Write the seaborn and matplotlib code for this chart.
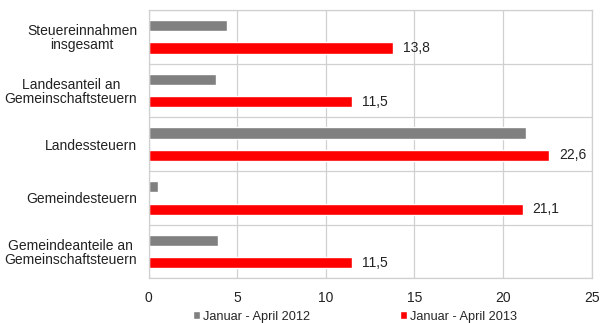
import matplotlib
matplotlib.use("Agg")
import matplotlib.pyplot as plt
import seaborn as sns
import pandas as pd
from matplotlib.patches import Patch

categories = ["Steuereinnahmen\ninsgesamt", "Landesanteil an\nGemeinschaftsteuern",
              "Landessteuern", "Gemeindesteuern", "Gemeindeanteile an\nGemeinschaftsteuern"]
series_names = ["Januar - April 2012", "Januar - April 2013"]
values_2012 = [4.4, 3.8, 21.3, 0.5, 3.9]
values_2013 = [13.8, 11.5, 22.6, 21.1, 11.5]
x_ticks = [0, 5, 10, 15, 20, 25]
colors = ["#808080", "#FF0000"]

sns.set_theme(style="white")
plt.rcParams['font.family'] = ['Liberation Sans', 'DejaVu Sans']

df = pd.DataFrame({
    "cat": categories * 2,
    "val": values_2012 + values_2013,
    "series": [series_names[0]] * 5 + [series_names[1]] * 5,
})

fig = plt.figure(figsize=(6.0, 3.23), dpi=100)
ax = fig.add_axes([0.2478, 0.138, 0.986 - 0.2478, 0.969 - 0.138])

sns.barplot(data=df, y="cat", x="val", hue="series", orient="h",
            palette=colors, width=0.84, gap=0.5, ax=ax, legend=False,
            saturation=1, errorbar=None)

ax.set_xlim(0, 25)
ax.set_ylim(4.5, -0.5)
ax.set_xticks(x_ticks)
ax.set_xticklabels([str(t) for t in x_ticks], fontsize=10, color="#222222")
ax.set_yticks(range(len(categories)))
ax.set_yticklabels(categories, fontsize=10, color="#222222", ha="right",
                   multialignment="center", linespacing=1.0)
ax.tick_params(axis="y", pad=8.4, length=0)
ax.tick_params(axis="x", pad=9, length=0)
ax.set_yticks([i + 0.5 for i in range(-1, len(categories))], minor=True)
ax.tick_params(axis="y", which="minor", length=0)
ax.grid(True, axis="x", color="#d0d0d0", linewidth=0.9)
ax.grid(True, axis="y", which="minor", color="#d0d0d0", linewidth=0.9)
ax.grid(False, axis="y", which="major")
ax.set_axisbelow(True)
ax.set_xlabel("")
ax.set_ylabel("")
for s in ax.spines.values():
    s.set_color("#d0d0d0")
    s.set_linewidth(0.9)

red_container = ax.containers[1]
ax.bar_label(red_container, labels=[f"{v:.1f}".replace(".", ",") for v in values_2013],
             padding=7, fontsize=10, color="#222222")

handles = [Patch(facecolor=colors[0]), Patch(facecolor=colors[1])]
fig.legend(handles, series_names, loc="lower center", bbox_to_anchor=(0.592, -0.035),
           ncol=2, frameon=False, fontsize=9.2, handlelength=0.55, handleheight=0.55,
           handletextpad=0.25, columnspacing=7.0)

fig.savefig("out.png", dpi=100)
